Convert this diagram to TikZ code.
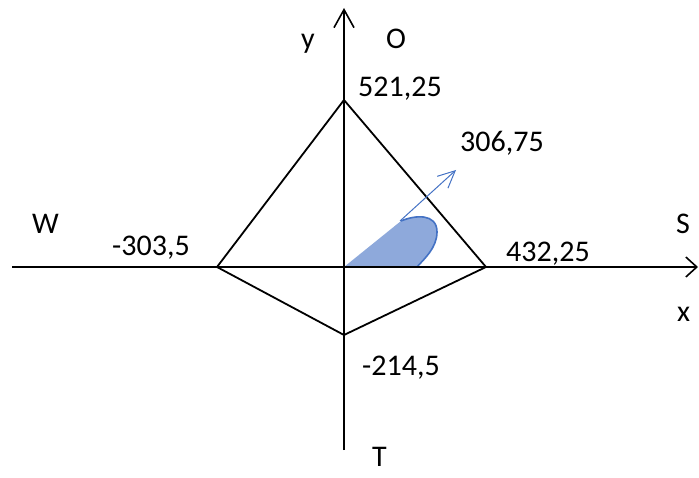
\documentclass[tikz,border=0pt]{standalone}
\usepackage{fontspec}
\setmainfont{Carlito}
\usetikzlibrary{arrows.meta}
\definecolor{areablue}{RGB}{142,169,219}
\definecolor{accent}{RGB}{68,114,196}
\tikzset{
  axis/.style={line width=2pt, black},
  edge/.style={line width=1.8pt, black},
  lbl/.style={anchor=base west, inner sep=0pt, font=\fontsize{30}{35}\selectfont},
}
\begin{document}
\begin{tikzpicture}[x=1pt,y=-1pt]
\useasboundingbox (0,0) rectangle (699,478);
% axis endpoints
\coordinate (ytop) at (344,8);
\coordinate (ybot) at (344,450);
\coordinate (xl) at (12,267);
\coordinate (xr) at (698,267);
\coordinate (o) at (344,267);
% diamond vertices
\coordinate (top) at (344,100);
\coordinate (left) at (217,267);
\coordinate (right) at (486,267);
\coordinate (bot) at (344,335);
% shaded region
\coordinate (c1) at (401,221);
\coordinate (c2) at (437,232);
\coordinate (c3) at (417,267);
\fill[areablue] (o) -- (c1) .. controls (415,215) and (437,213) .. (c2) .. controls (437,248) and (424,259) .. (c3) -- cycle;
\draw[accent, line width=1.6pt] (c1) .. controls (415,215) and (437,213) .. (c2) .. controls (437,248) and (424,259) .. (c3);
% axes
\draw[axis, -{Straight Barb[length=18pt,width=20pt,line width=1.6pt]}] (ybot) -- (ytop);
\draw[axis, -{Straight Barb[length=11pt,width=20pt,line width=1.6pt]}] (xl) -- (xr);
% diamond
\draw[edge, line join=miter] (top) -- (right) -- (bot) -- (left) -- cycle;
% vector
\coordinate (vs) at (400,221);
\coordinate (ve) at (456,170);
\draw[accent, line width=1pt, -{Straight Barb[length=17pt,width=16pt,line width=1pt]}] (vs) -- (ve);
% labels
\node[lbl] (ly) at (301,49) {y};
\node[lbl] (lo) at (386,49) {O};
\node[lbl] (l1) at (358,97) {521,25};
\node[lbl] (l2) at (460,152) {306,75};
\node[lbl] (lw) at (32,234) {W};
\node[lbl] (l3) at (112,256) {-303,5};
\node[lbl] (ls) at (676,234) {S};
\node[lbl] (l4) at (506,262) {432,25};
\node[lbl] (lx) at (677,322) {x};
\node[lbl] (l5) at (362,375) {-214,5};
\node[lbl] (lt) at (372,466) {T};
\end{tikzpicture}
\end{document}
